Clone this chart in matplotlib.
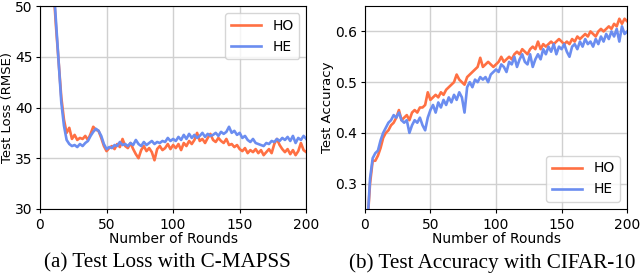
import numpy as np
import matplotlib
matplotlib.use("Agg")
import matplotlib.pyplot as plt

# ─── data (every 2nd round) ───────────────────────────────────────────────────
rounds = np.arange(2, 201, 2)

loss_ho = [80, 70, 63, 57, 52, 48, 44.5, 41, 38.8, 37.5,
           38.0, 36.9, 37.3, 36.8, 37.0, 36.9, 37.2, 36.8, 37.4, 38.1,
           37.8, 37.7, 37.0, 36.2, 35.7, 36.0, 36.2, 35.9, 36.4, 36.1,
           36.9, 36.2, 36.0, 36.5, 35.9, 35.4, 35.0, 35.8, 36.2, 35.7,
           36.0, 35.6, 34.8, 35.9, 36.2, 35.8, 36.0, 36.4, 35.9, 36.3,
           36.0, 36.4, 35.8, 36.5, 36.2, 36.7, 36.4, 36.8, 37.5, 36.7,
           36.9, 36.5, 37.0, 37.4, 36.8, 36.6, 37.0, 36.7, 36.5, 36.9,
           36.3, 36.4, 36.1, 36.3, 35.9, 35.7, 36.0, 35.5, 35.8, 35.6,
           35.9, 35.5, 35.8, 35.3, 35.6, 35.9, 35.5, 36.4, 36.9, 36.3,
           35.9, 35.6, 35.9, 35.4, 35.8, 35.3, 35.7, 36.5, 35.8, 35.6]

loss_he = [80, 71, 64, 58, 52.5, 48.5, 44.5, 40.5, 38.2, 36.8,
           36.4, 36.2, 36.3, 36.1, 36.4, 36.2, 36.5, 36.7, 37.2, 37.6,
           37.9, 37.7, 37.2, 36.4, 35.9, 36.1, 36.0, 36.3, 36.2, 36.6,
           36.3, 36.4, 36.2, 36.5, 36.3, 36.8, 36.4, 36.2, 36.6, 36.3,
           36.5, 36.7, 36.4, 36.6, 36.5, 36.7, 36.6, 37.0, 36.7, 36.9,
           36.7, 37.1, 36.8, 37.3, 36.9, 37.4, 37.0, 37.3, 37.0, 37.2,
           37.5, 37.1, 37.4, 37.2, 37.3, 37.5, 37.2, 37.6, 37.4, 37.6,
           38.1, 37.5, 37.7, 37.3, 37.5, 37.0, 37.2, 36.8, 36.6, 36.9,
           36.5, 36.4, 36.3, 36.2, 36.5, 36.4, 36.7, 36.6, 36.9, 36.7,
           37.0, 36.8, 37.1, 36.7, 37.2, 36.5, 37.0, 36.8, 37.2, 36.9]

acc_ho = [0.22, 0.30, 0.345, 0.345, 0.355, 0.37, 0.39, 0.40, 0.405, 0.415,
          0.42, 0.43, 0.445, 0.425, 0.43, 0.435, 0.425, 0.44, 0.445, 0.44,
          0.45, 0.45, 0.455, 0.48, 0.465, 0.47, 0.475, 0.47, 0.48, 0.475,
          0.485, 0.49, 0.495, 0.50, 0.515, 0.505, 0.50, 0.495, 0.51, 0.515,
          0.52, 0.525, 0.53, 0.548, 0.53, 0.535, 0.54, 0.535, 0.53, 0.535,
          0.54, 0.55, 0.54, 0.545, 0.55, 0.545, 0.555, 0.56, 0.555, 0.565,
          0.56, 0.555, 0.565, 0.57, 0.565, 0.58, 0.565, 0.575, 0.57, 0.575,
          0.58, 0.575, 0.58, 0.585, 0.58, 0.575, 0.58, 0.575, 0.585, 0.58,
          0.59, 0.585, 0.59, 0.595, 0.59, 0.60, 0.595, 0.59, 0.60, 0.605,
          0.60, 0.605, 0.61, 0.605, 0.615, 0.61, 0.625, 0.615, 0.625, 0.62]

acc_he = [0.22, 0.31, 0.35, 0.36, 0.365, 0.385, 0.40, 0.41, 0.42, 0.425,
          0.435, 0.43, 0.44, 0.425, 0.42, 0.425, 0.40, 0.415, 0.425, 0.42,
          0.43, 0.415, 0.405, 0.43, 0.445, 0.455, 0.44, 0.46, 0.45, 0.465,
          0.455, 0.47, 0.46, 0.475, 0.465, 0.48, 0.47, 0.44, 0.49, 0.50,
          0.49, 0.505, 0.50, 0.51, 0.505, 0.51, 0.50, 0.515, 0.52, 0.525,
          0.52, 0.535, 0.53, 0.52, 0.54, 0.535, 0.55, 0.53, 0.545, 0.555,
          0.54, 0.535, 0.555, 0.53, 0.545, 0.555, 0.545, 0.565, 0.555, 0.57,
          0.56, 0.575, 0.555, 0.57, 0.565, 0.575, 0.56, 0.55, 0.57, 0.575,
          0.565, 0.58, 0.57, 0.585, 0.575, 0.58, 0.57, 0.585, 0.575, 0.59,
          0.58, 0.595, 0.585, 0.60, 0.59, 0.605, 0.58, 0.61, 0.595, 0.60]

labels = ["HO", "HE"]
colors = ["#ff7043", "#6b8df0"]
captions = ["(a) Test Loss with C-MAPSS", "(b) Test Accuracy with CIFAR-10"]

# ─── plotting ─────────────────────────────────────────────────────────────────
fig = plt.figure(figsize=(6.4, 2.76), dpi=100)
ax1 = fig.add_axes([0.0625, 0.243, 0.416, 0.735])
ax2 = fig.add_axes([0.570, 0.243, 0.410, 0.735])

for ax, series in ((ax1, (loss_ho, loss_he)), (ax2, (acc_ho, acc_he))):
    for ys, lab, c in zip(series, labels, colors):
        ax.plot(rounds, ys, color=c, linewidth=1.9, label=lab)
    ax.set_xlim(0, 200)
    ax.set_xticks([0, 50, 100, 150, 200])
    ax.grid(True, color="#d0d0d0", linewidth=1.0)
    ax.set_axisbelow(True)
    ax.tick_params(labelsize=10, length=3)
    ax.tick_params(axis="y", pad=2.5)
    ax.set_xlabel("Number of Rounds", fontsize=10, labelpad=0)

ax1.set_ylim(30, 50)
ax1.set_yticks([30, 35, 40, 45, 50])
ax1.set_ylabel("Test Loss (RMSE)", fontsize=9.5, labelpad=0.5)
ax1.legend(loc="upper right", fontsize=10, handlelength=2.2)

ax2.set_ylim(0.25, 0.65)
ax2.set_yticks([0.3, 0.4, 0.5, 0.6])
ax2.set_ylabel("Test Accuracy", fontsize=9.5, labelpad=0.5)
ax2.legend(loc="lower right", fontsize=10, handlelength=2.2)

fig.text(0.262, 0.047, captions[0], ha="center", va="center",
         family="Liberation Serif", fontsize=15.2)
fig.text(0.769, 0.047, captions[1], ha="center", va="center",
         family="Liberation Serif", fontsize=15.2)

fig.savefig("out.png", dpi=100)
